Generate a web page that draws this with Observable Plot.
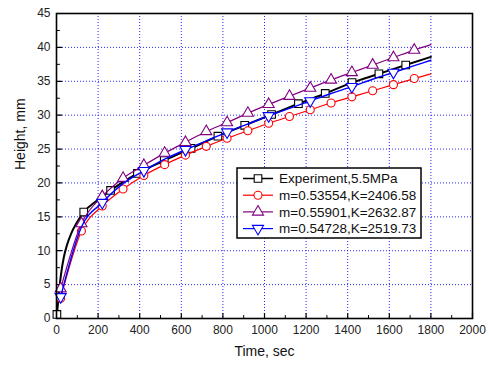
<!DOCTYPE html>
<html><head><meta charset="utf-8">
<script src="https://cdn.jsdelivr.net/npm/d3@7"></script>
<script src="https://cdn.jsdelivr.net/npm/@observablehq/plot@0.6"></script>
<style>
body{margin:0;background:#fff;font-family:"Liberation Sans",Arial,sans-serif}
#chart svg{display:block}
</style>
</head><body><div id="chart"></div>
<script>
// ---- data ----
const modelTime = [20,120,220,320,420,520,620,720,820,920,1020,1120,1220,1320,1420,1520,1620,1720,1800];
const redHeight = [3.0,12.9,16.6,19.1,21.1,22.7,24.1,25.4,26.6,27.7,28.8,29.8,30.8,31.8,32.7,33.6,34.5,35.4,36.1];
const purpleHeight = [4.4,14.0,18.0,20.7,22.6,24.4,26.0,27.6,28.9,30.3,31.6,32.8,34.0,35.2,36.3,37.4,38.5,39.6,40.4];
const blueHeight = [3.2,13.5,17.1,19.9,21.8,23.5,24.9,26.2,27.5,28.7,29.9,31.0,32.1,33.2,34.2,35.3,36.3,37.3,38.1];
const redMarkTime = [20,120,220,320,420,520,620,720,820,920,1020,1120,1220,1320,1420,1520,1620,1720];
const purpleMarkTime = [20,120,220,320,420,520,620,720,820,920,1020,1120,1220,1320,1420,1520,1620,1720];
const blueMarkTime = [20,220,420,620,820,1020,1220,1420,1620];

const expTime = [2,8,15,22,35,50,70,95,131,190,225,260,389,518,647,776,905,1034,1163,1292,1421,1550,1679,1800];
const expHeight = [0.6,2.5,4.8,6.6,9.0,10.8,12.5,14.0,15.7,17.3,18.1,18.9,21.4,23.3,25.1,26.9,28.5,30.1,31.7,33.2,34.8,36.1,37.4,38.6];
const expMarkTime = [2,131,260,389,518,647,776,905,1034,1163,1292,1421,1550,1679];

const xMajorTicks = [0,200,400,600,800,1000,1200,1400,1600,1800,2000];
const xMinorTicks = [100,300,500,700,900,1100,1300,1500,1700,1900];
const yMajorTicks = [0,5,10,15,20,25,30,35,40,45];
const yMinorTicks = [2.5,7.5,12.5,17.5,22.5,27.5,32.5,37.5,42.5];
const xGridTicks = [200,400,600,800,1000,1200,1400,1600,1800];
const yGridTicks = [5,10,15,20,25,30,35,40];

const seriesLabels = ["Experiment,5.5MPa","m=0.53554,K=2406.58","m=0.55901,K=2632.87","m=0.54728,K=2519.73"];
const seriesColors = ["#000000","#ff0000","#800080","#0000ff"];
const xTitle = "Time, sec";
const yTitle = "Height, mm";

// ---- build tables ----
const triangleDown = {
  draw(ctx, size) {
    const y = -Math.sqrt(size / (Math.sqrt(3) * 3));
    ctx.moveTo(0, -y * 2);
    ctx.lineTo(-Math.sqrt(3) * y, y);
    ctx.lineTo(Math.sqrt(3) * y, y);
    ctx.closePath();
  }
};
const tickShape = {draw(ctx, l) { ctx.moveTo(0, 0); ctx.lineTo(0, -l); }};
const seriesSymbols = [d3.symbolSquare, d3.symbolCircle, d3.symbolTriangle, triangleDown];
const seriesR = [4.3, 4, 4.1, 4.1];
const seriesWidth = [2, 1.2, 1.2, 1.4];

const expData = expTime.map((t, i) => ({t, h: expHeight[i]}));
const redData = modelTime.map((t, i) => ({t, h: redHeight[i]}));
const purpleData = modelTime.map((t, i) => ({t, h: purpleHeight[i]}));
const blueData = modelTime.map((t, i) => ({t, h: blueHeight[i]}));
const series = [
  {data: expData, marks: expMarkTime},
  {data: redData, marks: redMarkTime},
  {data: purpleData, marks: purpleMarkTime},
  {data: blueData, marks: blueMarkTime}
];

const marks = [
  Plot.gridX({ticks: xGridTicks, stroke: "#0000ff", strokeOpacity: 0.85, strokeDasharray: "1,2", strokeWidth: 1}),
  Plot.gridY({ticks: yGridTicks, stroke: "#0000ff", strokeOpacity: 0.85, strokeDasharray: "1,2", strokeWidth: 1}),
  Plot.axisX({ticks: xMajorTicks, tickSize: 0, tickPadding: 7, label: null, fontSize: 12, color: "#222", tickFormat: d3.format("d")}),
  Plot.axisY({ticks: yMajorTicks, tickSize: 0, tickPadding: 6, label: null, fontSize: 12, color: "#222", tickFormat: d3.format("d")}),
  // inward ticks
  Plot.vector(xMajorTicks, {x: d => d, y: 0, length: 5, rotate: 0, anchor: "start", shape: tickShape, stroke: "#000", strokeWidth: 1.2}),
  Plot.vector(xMinorTicks, {x: d => d, y: 0, length: 3, rotate: 0, anchor: "start", shape: tickShape, stroke: "#000", strokeWidth: 1}),
  Plot.vector(yMajorTicks, {x: 0, y: d => d, length: 5, rotate: 90, anchor: "start", shape: tickShape, stroke: "#000", strokeWidth: 1.2}),
  Plot.vector(yMinorTicks, {x: 0, y: d => d, length: 3, rotate: 90, anchor: "start", shape: tickShape, stroke: "#000", strokeWidth: 1})
];
series.forEach((s, k) => {
  marks.push(Plot.line(s.data, {x: "t", y: "h", stroke: seriesColors[k], strokeWidth: seriesWidth[k], curve: "monotone-x"}));
  marks.push(Plot.dot(s.data.filter(d => s.marks.includes(d.t)), {
    x: "t", y: "h", symbol: seriesSymbols[k], r: seriesR[k],
    stroke: seriesColors[k], fill: "white", strokeWidth: 1.1
  }));
});
marks.push(Plot.frame({stroke: "#000", strokeWidth: 1.6}));
marks.push(Plot.text([xTitle], {frameAnchor: "bottom", dy: 37, fontSize: 14, fill: "#111"}));
marks.push(Plot.text([yTitle], {frameAnchor: "left", dx: -36, dy: 4, rotate: -90, fontSize: 14, fill: "#111"}));

const chart = Plot.plot({
  width: 489, height: 365,
  marginLeft: 56, marginRight: 17, marginTop: 13, marginBottom: 47,
  style: {fontFamily: "'Liberation Sans', Arial, sans-serif", background: "white", overflow: "visible"},
  x: {domain: [0, 2000]},
  y: {domain: [0, 45]},
  marks
});
document.getElementById("chart").appendChild(chart);

// ---- legend (inside the plot frame) ----
const svg = d3.select(chart);
const lg = svg.append("g").attr("transform", "translate(237,168)");
lg.append("rect").attr("width", 184).attr("height", 70).attr("fill", "white").attr("stroke", "#000").attr("stroke-width", 1.5);
seriesLabels.forEach((lab, k) => {
  const cy = 10.5 + k * 16.7;
  lg.append("line").attr("x1", 6).attr("x2", 36).attr("y1", cy).attr("y2", cy)
    .attr("stroke", seriesColors[k]).attr("stroke-width", k === 0 ? 1.5 : 1.2);
  lg.append("path").attr("transform", `translate(21,${cy})`)
    .attr("d", d3.symbol(seriesSymbols[k], Math.PI * seriesR[k] * seriesR[k])())
    .attr("fill", "white").attr("stroke", seriesColors[k]).attr("stroke-width", 1.1);
  lg.append("text").attr("x", 42).attr("y", cy).attr("dy", "0.35em")
    .attr("text-anchor", "start")
    .attr("font-size", 13.5).attr("fill", "#111").text(lab);
});
</script>
</body></html>
